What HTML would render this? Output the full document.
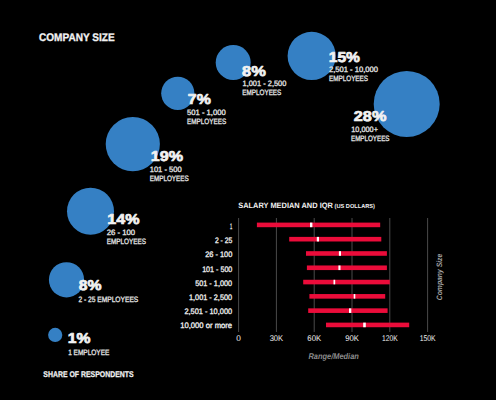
<!DOCTYPE html>
<html><head><meta charset="utf-8"><style>
html,body{margin:0;padding:0;background:#000;width:496px;height:400px;overflow:hidden}
svg{display:block;font-family:"Liberation Sans",sans-serif;text-rendering:geometricPrecision}
</style></head><body>
<svg width="496" height="400" viewBox="0 0 496 400">
<rect width="496" height="400" fill="#000"/>
<circle cx="406.7" cy="103.9" r="33.0" fill="#3580c4"/>
<circle cx="311.7" cy="55.9" r="24.1" fill="#3580c4"/>
<circle cx="233.2" cy="62.5" r="17.5" fill="#3580c4"/>
<circle cx="177.8" cy="93.3" r="16.6" fill="#3580c4"/>
<circle cx="132.8" cy="144.1" r="27.1" fill="#3580c4"/>
<circle cx="90.5" cy="211.2" r="23.5" fill="#3580c4"/>
<circle cx="66.5" cy="279.8" r="17.6" fill="#3580c4"/>
<circle cx="55.2" cy="334.9" r="7.1" fill="#3580c4"/>
<text x="242.05" y="76.35" font-size="14.3" font-weight="bold" font-style="normal" fill="#f2f2f2" text-anchor="start" textLength="23.8" lengthAdjust="spacingAndGlyphs" stroke="#f2f2f2" stroke-width="0.7" stroke-linejoin="round">8%</text>
<text x="328.75" y="62.05" font-size="14.3" font-weight="bold" font-style="normal" fill="#f2f2f2" text-anchor="start" textLength="31.2" lengthAdjust="spacingAndGlyphs" stroke="#f2f2f2" stroke-width="0.7" stroke-linejoin="round">15%</text>
<text x="353.85" y="121.25" font-size="14.3" font-weight="bold" font-style="normal" fill="#f2f2f2" text-anchor="start" textLength="32.5" lengthAdjust="spacingAndGlyphs" stroke="#f2f2f2" stroke-width="0.7" stroke-linejoin="round">28%</text>
<text x="187.85" y="103.95" font-size="14.3" font-weight="bold" font-style="normal" fill="#f2f2f2" text-anchor="start" textLength="23.0" lengthAdjust="spacingAndGlyphs" stroke="#f2f2f2" stroke-width="0.7" stroke-linejoin="round">7%</text>
<text x="150.85" y="160.75" font-size="14.3" font-weight="bold" font-style="normal" fill="#f2f2f2" text-anchor="start" textLength="32.3" lengthAdjust="spacingAndGlyphs" stroke="#f2f2f2" stroke-width="0.7" stroke-linejoin="round">19%</text>
<text x="107.35" y="224.25" font-size="14.3" font-weight="bold" font-style="normal" fill="#f2f2f2" text-anchor="start" textLength="32.2" lengthAdjust="spacingAndGlyphs" stroke="#f2f2f2" stroke-width="0.7" stroke-linejoin="round">14%</text>
<text x="78.75" y="290.35" font-size="14.3" font-weight="bold" font-style="normal" fill="#f2f2f2" text-anchor="start" textLength="22.8" lengthAdjust="spacingAndGlyphs" stroke="#f2f2f2" stroke-width="0.7" stroke-linejoin="round">8%</text>
<text x="67.75" y="342.75" font-size="14.3" font-weight="bold" font-style="normal" fill="#f2f2f2" text-anchor="start" textLength="22.7" lengthAdjust="spacingAndGlyphs" stroke="#f2f2f2" stroke-width="0.7" stroke-linejoin="round">1%</text>
<text x="242.5" y="86.0" font-size="7.8" font-weight="normal" font-style="normal" fill="#e6e6e6" text-anchor="start" textLength="43.9" lengthAdjust="spacingAndGlyphs" stroke="#e6e6e6" stroke-width="0.3">1,001 - 2,500</text>
<text x="242.3" y="94.8" font-size="7.8" font-weight="normal" font-style="normal" fill="#e6e6e6" text-anchor="start" textLength="39.0" lengthAdjust="spacingAndGlyphs" stroke="#e6e6e6" stroke-width="0.3">EMPLOYEES</text>
<text x="328.9" y="72.1" font-size="7.8" font-weight="normal" font-style="normal" fill="#e6e6e6" text-anchor="start" textLength="49.2" lengthAdjust="spacingAndGlyphs" stroke="#e6e6e6" stroke-width="0.3">2,501 - 10,000</text>
<text x="328.9" y="81.3" font-size="7.8" font-weight="normal" font-style="normal" fill="#e6e6e6" text-anchor="start" textLength="39.2" lengthAdjust="spacingAndGlyphs" stroke="#e6e6e6" stroke-width="0.3">EMPLOYEES</text>
<text x="351.3" y="132.2" font-size="7.8" font-weight="normal" font-style="normal" fill="#e6e6e6" text-anchor="start" textLength="26.6" lengthAdjust="spacingAndGlyphs" stroke="#e6e6e6" stroke-width="0.3">10,000+</text>
<text x="351.0" y="141.0" font-size="7.8" font-weight="normal" font-style="normal" fill="#e6e6e6" text-anchor="start" textLength="38.5" lengthAdjust="spacingAndGlyphs" stroke="#e6e6e6" stroke-width="0.3">EMPLOYEES</text>
<text x="187.0" y="114.6" font-size="7.8" font-weight="normal" font-style="normal" fill="#e6e6e6" text-anchor="start" textLength="38.7" lengthAdjust="spacingAndGlyphs" stroke="#e6e6e6" stroke-width="0.3">501 - 1,000</text>
<text x="187.0" y="123.7" font-size="7.8" font-weight="normal" font-style="normal" fill="#e6e6e6" text-anchor="start" textLength="39.2" lengthAdjust="spacingAndGlyphs" stroke="#e6e6e6" stroke-width="0.3">EMPLOYEES</text>
<text x="149.7" y="171.6" font-size="7.8" font-weight="normal" font-style="normal" fill="#e6e6e6" text-anchor="start" textLength="32.0" lengthAdjust="spacingAndGlyphs" stroke="#e6e6e6" stroke-width="0.3">101 - 500</text>
<text x="149.7" y="180.9" font-size="7.8" font-weight="normal" font-style="normal" fill="#e6e6e6" text-anchor="start" textLength="39.0" lengthAdjust="spacingAndGlyphs" stroke="#e6e6e6" stroke-width="0.3">EMPLOYEES</text>
<text x="106.7" y="234.9" font-size="7.8" font-weight="normal" font-style="normal" fill="#e6e6e6" text-anchor="start" textLength="28.4" lengthAdjust="spacingAndGlyphs" stroke="#e6e6e6" stroke-width="0.3">26 - 100</text>
<text x="106.7" y="243.9" font-size="7.8" font-weight="normal" font-style="normal" fill="#e6e6e6" text-anchor="start" textLength="39.3" lengthAdjust="spacingAndGlyphs" stroke="#e6e6e6" stroke-width="0.3">EMPLOYEES</text>
<text x="78.4" y="302.2" font-size="7.8" font-weight="normal" font-style="normal" fill="#e6e6e6" text-anchor="start" textLength="59.9" lengthAdjust="spacingAndGlyphs" stroke="#e6e6e6" stroke-width="0.3">2 - 25 EMPLOYEES</text>
<text x="68.2" y="354.7" font-size="7.8" font-weight="normal" font-style="normal" fill="#e6e6e6" text-anchor="start" textLength="41.2" lengthAdjust="spacingAndGlyphs" stroke="#e6e6e6" stroke-width="0.3">1 EMPLOYEE</text>
<text x="39.0" y="40.8" font-size="11" font-weight="bold" font-style="normal" fill="#f2f2f2" text-anchor="start" textLength="75.6" lengthAdjust="spacingAndGlyphs" stroke="#f2f2f2" stroke-width="0.3">COMPANY SIZE</text>
<text x="43.3" y="377.3" font-size="8.3" font-weight="bold" font-style="normal" fill="#f2f2f2" text-anchor="start" textLength="90.3" lengthAdjust="spacingAndGlyphs" stroke="#f2f2f2" stroke-width="0.25">SHARE OF RESPONDENTS</text>
<rect x="238.10" y="218" width="1" height="114" fill="#4a4a4a"/>
<rect x="275.90" y="218" width="1" height="114" fill="#4a4a4a"/>
<rect x="313.70" y="218" width="1" height="114" fill="#4a4a4a"/>
<rect x="351.50" y="218" width="1" height="114" fill="#4a4a4a"/>
<rect x="389.30" y="218" width="1" height="114" fill="#4a4a4a"/>
<rect x="427.10" y="218" width="1" height="114" fill="#4a4a4a"/>
<rect x="256.9" y="222.60" width="123.30" height="4.6" fill="#eb0c3a"/>
<rect x="310.0" y="222.60" width="2.40" height="4.6" fill="#ffffff"/>
<text x="229.95" y="229.3" font-size="7.9" font-weight="normal" font-style="normal" fill="#f2f2f2" text-anchor="start" textLength="2.2" lengthAdjust="spacingAndGlyphs" stroke="#f2f2f2" stroke-width="0.3">1</text>
<rect x="289.2" y="236.89" width="92.10" height="4.6" fill="#eb0c3a"/>
<rect x="316.8" y="236.89" width="2.20" height="4.6" fill="#ffffff"/>
<text x="214.95" y="243.1" font-size="7.9" font-weight="normal" font-style="normal" fill="#f2f2f2" text-anchor="start" textLength="17.4" lengthAdjust="spacingAndGlyphs" stroke="#f2f2f2" stroke-width="0.3">2 - 25</text>
<rect x="306.0" y="251.18" width="80.90" height="4.6" fill="#eb0c3a"/>
<rect x="338.9" y="251.18" width="2.10" height="4.6" fill="#ffffff"/>
<text x="205.15" y="257.3" font-size="7.9" font-weight="normal" font-style="normal" fill="#f2f2f2" text-anchor="start" textLength="27.2" lengthAdjust="spacingAndGlyphs" stroke="#f2f2f2" stroke-width="0.3">26 - 100</text>
<rect x="306.9" y="265.47" width="80.00" height="4.6" fill="#eb0c3a"/>
<rect x="338.4" y="265.47" width="2.10" height="4.6" fill="#ffffff"/>
<text x="202.15" y="271.6" font-size="7.9" font-weight="normal" font-style="normal" fill="#f2f2f2" text-anchor="start" textLength="30.2" lengthAdjust="spacingAndGlyphs" stroke="#f2f2f2" stroke-width="0.3">101 - 500</text>
<rect x="303.2" y="279.76" width="86.60" height="4.6" fill="#eb0c3a"/>
<rect x="333.5" y="279.76" width="1.70" height="4.6" fill="#ffffff"/>
<text x="195.15" y="286.1" font-size="7.9" font-weight="normal" font-style="normal" fill="#f2f2f2" text-anchor="start" textLength="37.0" lengthAdjust="spacingAndGlyphs" stroke="#f2f2f2" stroke-width="0.3">501 - 1,000</text>
<rect x="309.4" y="294.05" width="75.80" height="4.6" fill="#eb0c3a"/>
<rect x="353.7" y="294.05" width="1.60" height="4.6" fill="#ffffff"/>
<text x="188.95" y="300.0" font-size="7.9" font-weight="normal" font-style="normal" fill="#f2f2f2" text-anchor="start" textLength="43.2" lengthAdjust="spacingAndGlyphs" stroke="#f2f2f2" stroke-width="0.3">1,001 - 2,500</text>
<rect x="308.2" y="308.34" width="79.40" height="4.6" fill="#eb0c3a"/>
<rect x="349.0" y="308.34" width="2.30" height="4.6" fill="#ffffff"/>
<text x="184.45" y="314.2" font-size="7.9" font-weight="normal" font-style="normal" fill="#f2f2f2" text-anchor="start" textLength="47.7" lengthAdjust="spacingAndGlyphs" stroke="#f2f2f2" stroke-width="0.3">2,501 - 10,000</text>
<rect x="326.0" y="322.63" width="83.20" height="4.6" fill="#eb0c3a"/>
<rect x="363.2" y="322.63" width="2.60" height="4.6" fill="#ffffff"/>
<text x="180.15" y="328.0" font-size="7.9" font-weight="normal" font-style="normal" fill="#f2f2f2" text-anchor="start" textLength="52.0" lengthAdjust="spacingAndGlyphs" stroke="#f2f2f2" stroke-width="0.3">10,000 or more</text>
<text x="238.6" y="341.1" font-size="8.3" font-weight="normal" font-style="normal" fill="#f2f2f2" text-anchor="middle" textLength="4.6" lengthAdjust="spacingAndGlyphs">0</text>
<text x="276.4" y="341.1" font-size="8.3" font-weight="normal" font-style="normal" fill="#f2f2f2" text-anchor="middle" textLength="13.5" lengthAdjust="spacingAndGlyphs">30K</text>
<text x="314.2" y="341.1" font-size="8.3" font-weight="normal" font-style="normal" fill="#f2f2f2" text-anchor="middle" textLength="13.7" lengthAdjust="spacingAndGlyphs">60K</text>
<text x="352.0" y="341.1" font-size="8.3" font-weight="normal" font-style="normal" fill="#f2f2f2" text-anchor="middle" textLength="13.7" lengthAdjust="spacingAndGlyphs">90K</text>
<text x="389.8" y="341.1" font-size="8.3" font-weight="normal" font-style="normal" fill="#f2f2f2" text-anchor="middle" textLength="15.8" lengthAdjust="spacingAndGlyphs">120K</text>
<text x="427.6" y="341.1" font-size="8.3" font-weight="normal" font-style="normal" fill="#f2f2f2" text-anchor="middle" textLength="15.9" lengthAdjust="spacingAndGlyphs">150K</text>
<text x="308.4" y="358.5" font-size="8.4" font-weight="bold" font-style="italic" fill="#8c8c8c" text-anchor="start" textLength="50.5" lengthAdjust="spacingAndGlyphs">Range/Median</text>
<text x="238.2" y="208.4" font-size="7.8" font-weight="bold" font-style="normal" fill="#f2f2f2" text-anchor="start" textLength="94.7" lengthAdjust="spacingAndGlyphs">SALARY MEDIAN AND IQR</text>
<text x="334.6" y="208.4" font-size="5.8" font-weight="bold" font-style="normal" fill="#f2f2f2" text-anchor="start" textLength="40.3" lengthAdjust="spacingAndGlyphs">(US DOLLARS)</text>
<g transform="translate(442.3 300.2) rotate(-90)"><text x="0" y="0" font-size="7.8" font-weight="bold" font-style="italic" fill="#a0a0a0" text-anchor="start" textLength="46.5" lengthAdjust="spacingAndGlyphs">Company Size</text></g>
</svg>
</body></html>
